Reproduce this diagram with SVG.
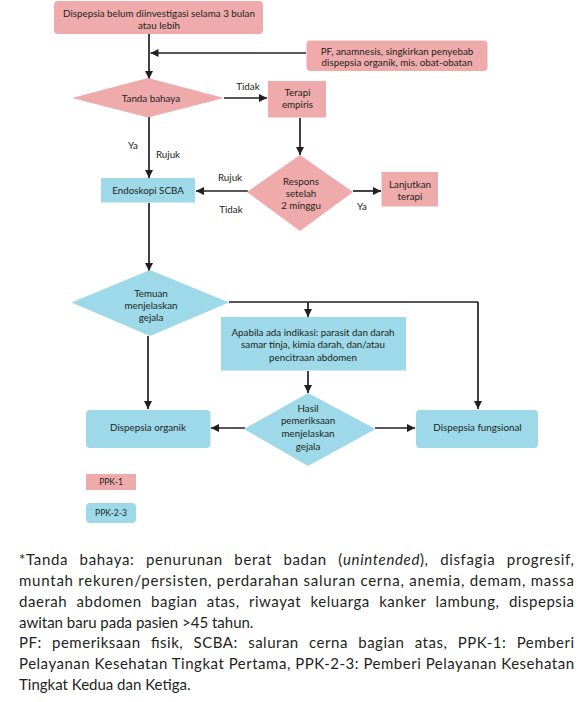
<svg xmlns="http://www.w3.org/2000/svg" width="579" height="702" viewBox="0 0 579 702">
<defs>
<style>
.pk{fill:#efabab;}
.bl{fill:#9dd9e8;}
.t{font-family:Lato,"Open Sans",sans-serif;font-size:9.8px;fill:#231f20;text-anchor:middle;}
.lb{font-family:Lato,"Open Sans",sans-serif;font-size:9.8px;fill:#231f20;text-anchor:middle;}
.lg{font-family:Lato,"Open Sans",sans-serif;font-size:8.5px;fill:#231f20;text-anchor:middle;}
.fn{font-family:Lato,"Open Sans",sans-serif;font-size:15px;fill:#231f20;}
.c{fill:none;stroke:#231f20;stroke-width:1.7;}
.ca{fill:none;stroke:#231f20;stroke-width:1.7;marker-end:url(#ah);}
</style>
<marker id="ah" markerUnits="userSpaceOnUse" markerWidth="9" markerHeight="9" refX="8" refY="4" orient="auto">
<path d="M0,0 L8,4 L0,8 z" fill="#231f20"/>
</marker>
</defs>
<rect width="579" height="702" fill="#ffffff"/>

<g id="connectors">
<path class="ca" d="M149,34 V79"/>
<path class="ca" d="M306,53 H150.5"/>
<path class="ca" d="M224,98 H267"/>
<path class="ca" d="M149,117 V178"/>
<path class="ca" d="M300,118 V155"/>
<path class="ca" d="M248,191 H196"/>
<path class="ca" d="M353,191 H381"/>
<path class="ca" d="M149,203 V271"/>
<path class="c" d="M229,302 H478"/>
<path class="ca" d="M478,302 V409"/>
<path class="ca" d="M308,302 V317"/>
<path class="ca" d="M308,371 V393"/>
<path class="ca" d="M245,428 H211"/>
<path class="ca" d="M375,428 H415"/>
<path class="ca" d="M148,336 V409"/>
<text class="lb" x="248" y="90">Tidak</text>
<text class="lb" x="133" y="149">Ya</text>
<text class="lb" x="168" y="158">Rujuk</text>
<text class="lb" x="230" y="181">Rujuk</text>
<text class="lb" x="231" y="213">Tidak</text>
<text class="lb" x="362" y="210">Ya</text>
</g>

<g id="n-start">
<rect class="pk" x="54" y="1" width="209" height="33" rx="4"/>
<text class="t" x="159" y="17">Dispepsia belum diinvestigasi selama 3 bulan</text>
<text class="t" x="159" y="28.5">atau lebih</text>
</g>

<g id="n-pf">
<rect class="pk" x="306.5" y="40.5" width="181" height="30.5" rx="4"/>
<text class="t" x="397" y="54.5">PF, anamnesis, singkirkan penyebab</text>
<text class="t" x="397" y="66">dispepsia organik, mis. obat-obatan</text>
</g>

<g id="n-tanda">
<polygon class="pk" points="72,98 148,78 224,98 148,117.5"/>
<text class="t" x="151" y="102">Tanda bahaya</text>
</g>

<g id="n-terapi">
<rect class="pk" x="268" y="81" width="58" height="36.5"/>
<text class="t" x="297.5" y="96">Terapi</text>
<text class="t" x="297.5" y="108">empiris</text>
</g>

<g id="n-respons">
<polygon class="pk" points="247,192 300,155 353,192 300,231"/>
<text class="t" x="301" y="185">Respons</text>
<text class="t" x="301" y="197">setelah</text>
<text class="t" x="301" y="209">2 minggu</text>
</g>

<g id="n-lanjut">
<rect class="pk" x="381.5" y="172" width="56.5" height="34.5"/>
<text class="t" x="410" y="188">Lanjutkan</text>
<text class="t" x="410" y="200">terapi</text>
</g>

<g id="n-endoskopi">
<rect class="bl" x="101" y="178" width="94" height="24.5"/>
<text class="t" x="148" y="194">Endoskopi SCBA</text>
</g>

<g id="n-temuan">
<polygon class="bl" points="71.5,302.5 150,270 229,302.5 150,336"/>
<text class="t" x="151" y="297">Temuan</text>
<text class="t" x="151" y="309">menjelaskan</text>
<text class="t" x="151" y="321">gejala</text>
</g>

<g id="n-apabila">
<rect class="bl" x="221" y="317" width="185" height="53.5"/>
<text class="t" x="313" y="335.5">Apabila ada indikasi: parasit dan darah</text>
<text class="t" x="313" y="348">samar tinja, kimia darah, dan/atau</text>
<text class="t" x="313" y="360.5">pencitraan abdomen</text>
</g>

<g id="n-hasil">
<polygon class="bl" points="244,429 308,393 375.5,429 308,466"/>
<text class="t" x="308" y="411.5">Hasil</text>
<text class="t" x="308" y="424">pemeriksaan</text>
<text class="t" x="308" y="437">menjelaskan</text>
<text class="t" x="308" y="449.5">gejala</text>
</g>

<g id="n-organik">
<rect class="bl" x="86" y="410" width="124.5" height="38" rx="4"/>
<text class="t" x="148" y="430.5">Dispepsia organik</text>
</g>

<g id="n-fungsional">
<rect class="bl" x="416" y="410" width="122" height="38" rx="4"/>
<text class="t" x="477.5" y="430.5">Dispepsia fungsional</text>
</g>

<g id="legend">
<rect class="pk" x="86" y="474" width="50" height="16"/>
<text class="lg" x="111" y="485">PPK-1</text>
<rect class="bl" x="86" y="503" width="50" height="20" rx="4"/>
<text class="lg" x="111" y="516">PPK-2-3</text>
</g>

<g id="footnote">
<text class="fn" x="19" y="565" textLength="555" lengthAdjust="spacing" word-spacing="7">*Tanda bahaya: penurunan berat badan (<tspan font-style="italic">unintended</tspan>), disfagia progresif,</text>
<text class="fn" x="19" y="585.8" textLength="555" lengthAdjust="spacing">muntah rekuren/persisten, perdarahan saluran cerna, anemia, demam, massa</text>
<text class="fn" x="19" y="606.7" textLength="555" lengthAdjust="spacing" word-spacing="5">daerah abdomen bagian atas, riwayat keluarga kanker lambung, dispepsia</text>
<text class="fn" x="19" y="627.5">awitan baru pada pasien &gt;45 tahun.</text>
<text class="fn" x="19" y="648.3" textLength="555" lengthAdjust="spacing" word-spacing="6">PF: pemeriksaan fisik, SCBA: saluran cerna bagian atas, PPK-1: Pemberi</text>
<text class="fn" x="19" y="669.2" textLength="555" lengthAdjust="spacing">Pelayanan Kesehatan Tingkat Pertama, PPK-2-3: Pemberi Pelayanan Kesehatan</text>
<text class="fn" x="19" y="690">Tingkat Kedua dan Ketiga.</text>
</g>
</svg>
